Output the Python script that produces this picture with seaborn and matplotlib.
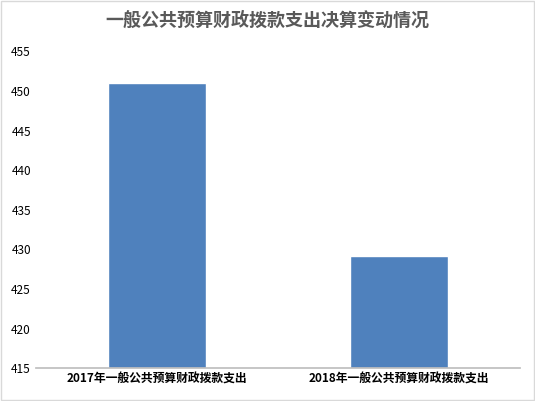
import matplotlib
matplotlib.use("Agg")
import matplotlib.pyplot as plt
import seaborn as sns
import pandas as pd

categories = ["2017年一般公共预算财政拨款支出", "2018年一般公共预算财政拨款支出"]
values = [451.0, 429.1]
title = "一般公共预算财政拨款支出决算变动情况"

sns.set_theme(style="white")
plt.rcParams['font.family'] = ['Noto Sans CJK SC', 'DejaVu Sans']

df = pd.DataFrame({"cat": categories, "val": values})
fig = plt.figure(figsize=(5.35, 4.01), dpi=100)
ax = fig.add_axes([0.067, 0.082, 0.905, 0.79])
sns.barplot(data=df, x="cat", y="val", color="#4f81bd", saturation=1, width=0.405, ax=ax)
ax.set_ylim(415, 455)
ax.set_yticks(range(415, 456, 5))
ax.set_xlabel("")
ax.set_ylabel("")
ax.tick_params(axis='both', labelsize=8.5, colors="#000000", length=0)
for s in ["top", "right", "left"]:
    ax.spines[s].set_visible(False)
ax.spines["bottom"].set_color("#bfbfbf")
for t in ax.get_xticklabels():
    t.set_fontweight("bold")
fig.text(0.5, 0.95, title, ha="center", va="center", fontsize=13, fontweight="bold", color="#595959")
fig.patches.append(plt.Rectangle((0.002, 0.002), 0.996, 0.996, transform=fig.transFigure,
                                 fill=False, edgecolor="#d9d9d9", linewidth=1))
fig.savefig("out.png", dpi=100)
